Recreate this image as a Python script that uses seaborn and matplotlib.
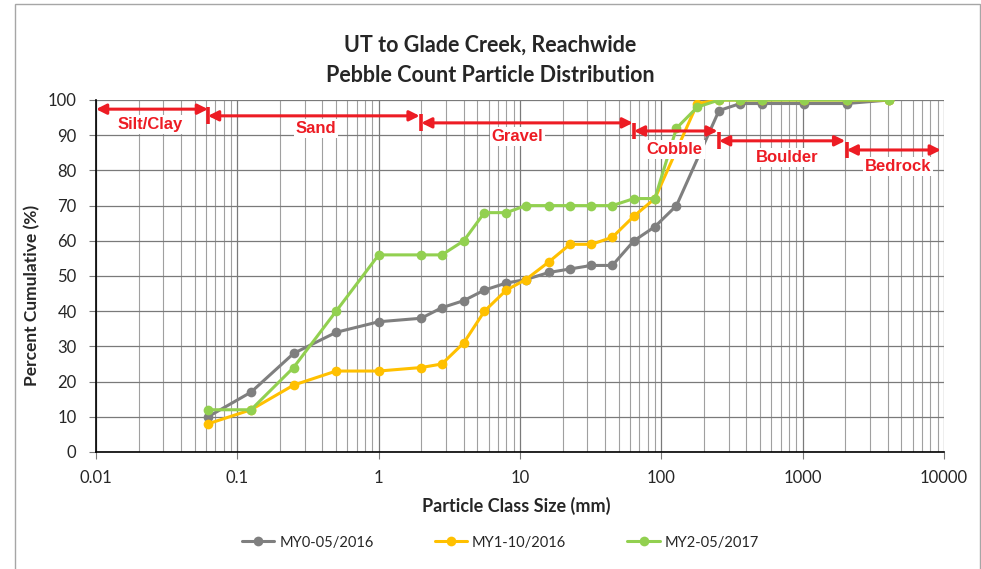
import numpy as np
import pandas as pd
import matplotlib
matplotlib.use("Agg")
import matplotlib.pyplot as plt
from matplotlib.patches import Rectangle
from matplotlib.ticker import LogLocator, FixedLocator, NullFormatter
import seaborn as sns

# ---- data ----
sizes = [0.062, 0.125, 0.25, 0.5, 1, 2, 2.8, 4, 5.6, 8, 11, 16, 22.6, 32, 45,
         64, 90, 128, 180, 256, 362, 512, 1024, 2048, 4096]
my0 = [10, 17, 28, 34, 37, 38, 41, 43, 46, 48, 49, 51, 52, 53, 53,
       60, 64, 70, None, 97, 99, 99, 99, 99, 100]
my1 = [8, 12, 19, 23, 23, 24, 25, 31, 40, 46, 49, 54, 59, 59, 61,
       67, 72, None, 99, 100, 100, 100, 100, 100, 100]
my2 = [12, 12, 24, 40, 56, 56, 56, 60, 68, 68, 70, 70, 70, 70, 70,
       72, 72, 92, 98, 100, 100, 100, 100, 100, 100]
series_names = ["MY0-05/2016", "MY1-10/2016", "MY2-05/2017"]
colors = ["#7f7f7f", "#FFC000", "#92D050"]

classes = ["Silt/Clay", "Sand", "Gravel", "Cobble", "Boulder", "Bedrock"]
class_bounds = [(0.01, 0.062), (0.062, 1.95), (2, 63), (64, 250), (256, 2000), (2048, 9500)]
class_arrow_y = [97.4, 95.5, 93.5, 91.2, 88.4, 85.8]
class_text_xy = [(0.024, 92.9), (0.36, 92.0), (9.6, 89.5), (124, 85.8), (783, 83.8), (4710, 81.0)]

xticks = [0.01, 0.1, 1, 10, 100, 1000, 10000]
xticklabels = ["0.01", "0.1", "1", "10", "100", "1000", "10000"]
yticks = list(range(0, 101, 10))

rows = []
for name, vals in zip(series_names, [my0, my1, my2]):
    for s, v in zip(sizes, vals):
        if v is not None:
            rows.append({"size": s, "pct": v, "series": name})
df = pd.DataFrame(rows)

sns.set_theme(style="white")
plt.rcParams["font.family"] = ["Lato", "DejaVu Sans"]

fig = plt.figure(figsize=(9.81, 5.69), dpi=100)
W, H = 981, 569
ax = fig.add_axes([96 / W, 1 - 452 / H, (944 - 96) / W, (452 - 100) / H])

# outer border
fig.patches.append(Rectangle((15 / W, -0.01), (980 - 15) / W, 1 - 4 / H + 0.01,
                             transform=fig.transFigure, fill=False,
                             edgecolor="#a6a6a6", lw=1.0, zorder=0))

sns.lineplot(data=df, x="size", y="pct", hue="series", hue_order=series_names,
             palette=colors, marker="o", markersize=7, markeredgewidth=0,
             linewidth=2.2, ax=ax, legend=True, sort=False)

ax.set_xscale("log")
ax.set_xlim(0.01, 10000)
ax.set_ylim(0, 100)
ax.xaxis.set_major_locator(FixedLocator(xticks))
ax.set_xticklabels(xticklabels)
ax.xaxis.set_minor_locator(LogLocator(base=10, subs=np.arange(2, 10)))
ax.xaxis.set_minor_formatter(NullFormatter())
ax.set_yticks(yticks)

ax.grid(True, which="major", axis="both", color="#7a7a7a", lw=0.9, zorder=0)
ax.grid(True, which="minor", axis="x", color="#a0a0a0", lw=0.8, zorder=0)
ax.set_axisbelow(True)

for sp in ["top", "right"]:
    ax.spines[sp].set_visible(False)
for sp in ["left", "bottom"]:
    ax.spines[sp].set_color("black")
    ax.spines[sp].set_linewidth(1.2)

ax.tick_params(axis="both", which="major", direction="out", length=5, width=0.8,
               color="#7a7a7a", labelsize=12, labelcolor="#262626", pad=9,
               left=True, bottom=True)
ax.tick_params(axis="x", which="minor", length=0)
ax.tick_params(axis="x", which="major", pad=8)

ax.set_xlabel("Particle Class Size (mm)", fontsize=13, fontweight="bold",
              color="#262626", labelpad=10)
ax.xaxis.set_label_coords(0.495, -0.127)
ax.set_ylabel("Percent Cumulative (%)", fontsize=12.5, fontweight="bold",
              color="#262626")
ax.yaxis.set_label_coords(-0.066, 0.446)

fig.text(0.5, 1 - 45 / H, "UT to Glade Creek, Reachwide", ha="center", va="center",
         fontsize=15.5, fontweight="bold", color="#262626")
fig.text(0.5, 1 - 75 / H, "Pebble Count Particle Distribution", ha="center", va="center",
         fontsize=15.5, fontweight="bold", color="#262626")

# class annotations
red = "#ED1C24"
for i, (name, (x0, x1), ya, (tx, ty)) in enumerate(zip(classes, class_bounds, class_arrow_y, class_text_xy)):
    ax.annotate("", xy=(x1, ya), xytext=(x0, ya),
                arrowprops=dict(arrowstyle="<|-|>", color=red, lw=2.2,
                                mutation_scale=15, shrinkA=0, shrinkB=0),
                zorder=6)
    if i > 0:
        ax.plot([x0, x0], [ya - 2.4, ya + 2.4], color=red, lw=2.6, zorder=6,
                solid_capstyle="butt")
    ax.text(tx, ty, name, ha="center", va="center", color=red, fontsize=12,
            fontweight="bold", family=["Liberation Sans", "DejaVu Sans"],
            bbox=dict(facecolor="white", edgecolor="none", pad=1.5), zorder=5)

leg = ax.legend(loc="upper center", bbox_to_anchor=(0.477, -0.2), ncol=3,
                frameon=False, fontsize=10.5, handlelength=2.2, columnspacing=4.2,
                handletextpad=0.35)
for t in leg.get_texts():
    t.set_color("#262626")

fig.savefig("out.png", dpi=100)
